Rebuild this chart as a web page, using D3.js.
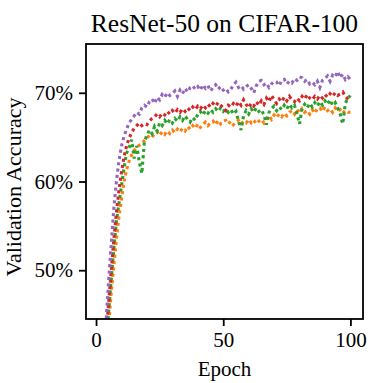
<!DOCTYPE html>
<html>
<head>
<meta charset="utf-8">
<script src="https://cdn.jsdelivr.net/npm/d3@7"></script>
<style>
  body { margin: 0; background: #fff; }
  svg text { font-family: "Liberation Serif", "Times New Roman", serif; fill: #000; }
</style>
</head>
<body>
<svg id="chart" width="371" height="383"></svg>
<script>
// validation accuracy (%) per epoch
var epochs = d3.range(1, 101);

var purpleAcc = [28, 35, 40, 44.5, 49, 53, 57, 60, 62.3, 64,
  65.1, 65.9, 66.6, 67.0, 67.4, 67.8, 67.6, 68.3, 68.6, 68.4,
  69.0, 69.3, 68.8, 69.5, 69.2, 69.8, 69.5, 70.0, 69.7, 69.9,
  70.2, 69.6, 70.3, 69.9, 70.5, 70.1, 70.6, 70.8, 70.4, 70.7,
  70.3, 70.9, 70.5, 70.8, 70.2, 70.6, 70.9, 70.4, 70.7, 70.3,
  70.5, 70.1, 70.4, 70.9, 71.2, 70.6, 70.8, 70.4, 70.7, 70.9,
  70.5, 70.0, 70.8, 71.3, 71.4, 70.9, 71.1, 70.6, 71.0, 71.3,
  71.2, 70.8, 71.4, 71.5, 71.0, 71.3, 71.1, 71.6, 71.4, 71.8,
  71.7, 71.3, 71.5, 71.0, 71.2, 70.9, 71.3, 70.6, 71.4, 71.6,
  71.9, 71.3, 72.0, 71.8, 72.4, 71.7, 72.1, 71.5, 71.8, 71.5];

var redAcc = [27, 34, 39, 43, 46.5, 50, 53.5, 56.5, 59, 61,
  62.8, 64.0, 64.9, 65.5, 66.0, 66.3, 66.6, 66.3, 66.5, 66.4,
  66.8, 67.1, 67.3, 67.6, 67.3, 67.7, 67.5, 67.9, 67.6, 68.0,
  67.7, 68.1, 67.8, 68.2, 67.9, 68.3, 68.0, 68.4, 68.1, 68.5,
  68.2, 68.6, 68.3, 68.7, 68.4, 68.8, 68.5, 68.9, 68.6, 68.3,
  68.0, 68.6, 68.4, 68.8, 68.5, 69.0, 68.6, 69.2, 68.7, 68.3,
  68.8, 68.5, 69.0, 68.6, 69.1, 68.7, 69.4, 69.0, 69.7, 69.2,
  68.8, 69.3, 69.0, 69.5, 69.1, 69.6, 69.2, 69.0, 69.4, 69.1,
  69.6, 69.3, 69.8, 69.4, 69.2, 69.6, 69.3, 69.7, 69.4, 69.8,
  69.5, 69.9, 69.6, 70.0, 69.7, 69.9, 70.1, 69.6, 69.3, 69.0];

var greenAcc = [26.5, 33.5, 38.5, 42, 45.5, 49, 52.5, 55.5, 57.5, 59.5,
  61.5, 63.2, 63.8, 64.7, 62.6, 64.0, 62.2, 60.9, 64.5, 65.2,
  65.8, 65.4, 66.2, 65.7, 66.6, 66.3, 66.9, 66.5, 67.0, 66.6,
  67.1, 66.8, 67.3, 66.9, 67.4, 67.0, 66.7, 67.2, 66.9, 67.6,
  67.9, 67.5, 68.0, 67.7, 68.1, 67.8, 68.2, 67.9, 68.3, 67.9,
  68.2, 67.8, 68.1, 67.6, 67.9, 66.8, 65.8, 67.4, 68.0, 67.6,
  68.2, 67.8, 68.3, 67.9, 68.1, 67.5, 66.4, 67.8, 68.2, 68.5,
  68.0, 68.4, 68.1, 68.6, 68.2, 68.7, 68.3, 68.6, 67.6, 66.5,
  68.2, 68.7, 68.3, 68.8, 68.4, 68.9, 68.5, 69.0, 68.6, 69.1,
  68.7, 69.2, 68.6, 68.9, 68.3, 67.6, 66.5, 68.8, 69.4, 69.7];

var orangeAcc = [25.5, 32.5, 37.5, 41, 44, 47.5, 50.5, 53.5, 56, 58,
  60.0, 61.3, 62.3, 63.0, 63.5, 63.8, 64.1, 64.3, 64.6, 64.9,
  65.2, 65.0, 65.4, 65.6, 65.2, 65.6, 65.3, 65.7, 65.4, 65.8,
  65.5, 65.9, 65.6, 66.0, 65.7, 66.2, 65.9, 66.3, 66.0, 66.5,
  66.1, 66.4, 66.7, 66.3, 66.6, 66.8, 66.4, 66.9, 66.5, 66.8,
  66.9, 66.5, 66.8, 66.4, 66.7, 66.9, 66.5, 66.8, 66.6, 67.0,
  66.6, 66.9, 66.5, 66.8, 67.0, 66.6, 67.1, 67.4, 67.0, 67.5,
  67.2, 67.6, 67.3, 67.7, 67.4, 67.8, 68.0, 67.6, 68.1, 67.7,
  68.2, 67.8, 68.0, 67.6, 68.1, 67.7, 68.2, 68.3, 67.9, 68.4,
  68.0, 68.2, 67.8, 68.3, 67.9, 68.1, 67.7, 68.0, 67.8, 67.8];

var seriesColors = ["#ff7f0e", "#2ca02c", "#d62728", "#9467bd"];
var seriesValues = [orangeAcc, greenAcc, redAcc, purpleAcc];

var xTicks = [0, 50, 100];
var yTicks = [50, 60, 70];

var titleText = "ResNet-50 on CIFAR-100";
var xLabel = "Epoch";
var yLabel = "Validation Accuracy";

var margin = { top: 44, right: 8, bottom: 64, left: 86 };
var width = 371 - margin.left - margin.right;
var height = 383 - margin.top - margin.bottom;

var svg = d3.select("#chart");
var g = svg.append("g").attr("transform", `translate(${margin.left},${margin.top})`);

var x = d3.scaleLinear().domain([-3.95, 104.95]).range([0, width]);
var y = d3.scaleLinear().domain([44.5, 75.5]).range([height, 0]);

g.append("clipPath").attr("id", "plotClip")
  .append("rect").attr("width", width).attr("height", height);

var line = d3.line()
  .x((d, i) => x(epochs[i]))
  .y(d => y(d));

var plot = g.append("g").attr("clip-path", "url(#plotClip)");
seriesValues.forEach(function (vals, k) {
  plot.append("path")
    .datum(vals)
    .attr("d", line)
    .attr("fill", "none")
    .attr("stroke", seriesColors[k])
    .attr("stroke-width", 3.1)
    .attr("stroke-dasharray", "3.1,3.3");
});

// frame
g.append("rect")
  .attr("width", width).attr("height", height)
  .attr("fill", "none").attr("stroke", "#000").attr("stroke-width", 1.8);

var xAxis = g.append("g")
  .attr("transform", `translate(0,${height})`)
  .call(d3.axisBottom(x).tickValues(xTicks).tickSize(7).tickPadding(6).tickSizeOuter(0));
var yAxis = g.append("g")
  .call(d3.axisLeft(y).tickValues(yTicks).tickSize(7).tickPadding(6).tickSizeOuter(0)
    .tickFormat(d => d + "%"));

[xAxis, yAxis].forEach(function (a) {
  a.select(".domain").remove();
  a.selectAll(".tick line").attr("stroke", "#000").attr("stroke-width", 1.8);
  a.selectAll(".tick text").attr("font-size", 21).attr("font-family", "Liberation Serif");
});

svg.append("text")
  .attr("x", margin.left + width / 2).attr("y", 32)
  .attr("text-anchor", "middle").attr("font-size", 25.5)
  .text(titleText);

svg.append("text")
  .attr("x", margin.left + width / 2).attr("y", 376)
  .attr("text-anchor", "middle").attr("font-size", 21)
  .text(xLabel);

svg.append("text")
  .attr("transform", `translate(21,187) rotate(-90)`)
  .attr("text-anchor", "middle").attr("font-size", 22)
  .text(yLabel);
</script>
</body>
</html>
